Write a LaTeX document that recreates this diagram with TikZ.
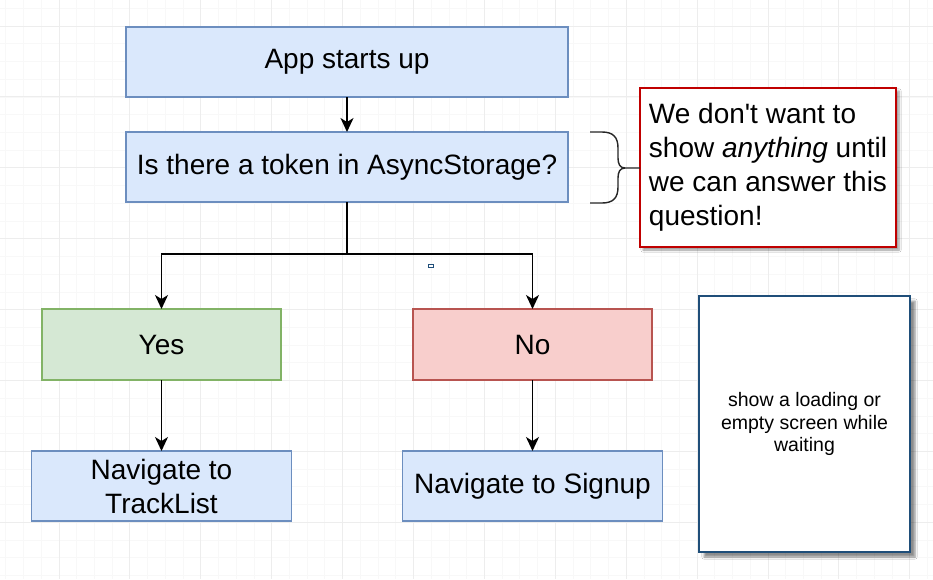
\documentclass[tikz,border=0pt]{standalone}
\usepackage{fontspec}
\setmainfont{Liberation Sans}
\usetikzlibrary{positioning,arrows.meta,shadows.blur,calc}

\definecolor{stepfill}{HTML}{DAE8FC}
\definecolor{stepline}{HTML}{6C8EBF}
\definecolor{yesfill}{HTML}{D5E8D4}
\definecolor{yesline}{HTML}{82B366}
\definecolor{nofill}{HTML}{F8CECC}
\definecolor{noline}{HTML}{B85450}
\definecolor{noteline}{HTML}{C00000}
\definecolor{waitline}{HTML}{1F4E79}
\definecolor{gridminor}{HTML}{F8F8F8}
\definecolor{gridmajor}{HTML}{EDEDED}

\begin{document}
\begin{tikzpicture}[
    x=1pt, y=-1pt,
    node distance=35pt and 1cm,
    box/.style={draw=stepline, fill=stepfill, line width=1.4pt, rectangle, align=center, inner sep=0pt, outer sep=0pt, minimum width=#1, minimum height=70pt, font=\fontsize{28}{34}\selectfont},
    box/.default=442pt,
    answer/.style={box=239pt, minimum height=71pt},
    note/.style={draw=noteline, fill=white, line width=2.4pt, rectangle, align=left, inner sep=0pt, minimum width=256pt, minimum height=159pt, font=\fontsize{28}{34}\selectfont, blur shadow={shadow xshift=3pt, shadow yshift=-3pt, shadow blur steps=6, shadow opacity=40}},
    waitbox/.style={draw=waitline, fill=white, line width=1.3pt, rectangle, align=center, inner sep=0pt, minimum width=211pt, minimum height=256pt, font=\fontsize{19.5}{22.5}\selectfont, blur shadow={shadow xshift=5pt, shadow yshift=-5pt, shadow blur steps=5, shadow opacity=45}},
    arrow/.style={-{Stealth[length=14pt, width=13pt, inset=4pt]}, line width=1.6pt}
]
\useasboundingbox (0,0) rectangle (933,579);

% Grid
\fill[white] (0,0) rectangle (933,579);
\foreach \i in {0,...,52}
  \draw[gridminor, line width=0.8pt] ({5.8+\i*17.725},0) -- ++(0,579);
\foreach \j in {0,...,32}
  \draw[gridminor, line width=0.8pt] (0,{8.3+\j*17.725}) -- ++(933,0);
\foreach \i in {0,...,12}
  \draw[gridmajor, line width=1pt] ({59+\i*70.9},0) -- ++(0,579);
\foreach \j in {0,...,7}
  \draw[gridmajor, line width=1pt] (0,{26+\j*70.9}) -- ++(933,0);

% Nodes
\node[box] (app) at (347,62) {App starts up};
\node[box, below=of app] (token) {Is there a token in AsyncStorage?};
\node[answer, draw=yesline, fill=yesfill] (yes) at (161.5,344.5) {Yes};
\node[answer, draw=noline, fill=nofill] (no) at (532.5,344.5) {No};
\node[box=260pt, below=71pt of yes] (tracklist) {Navigate to\\TrackList};
\node[box=260pt, below=71pt of no] (signup) {Navigate to Signup};
\node[note] (question) at (768,167.5) {We don\textquotesingle t want to\\show \textit{anything} until\\we can answer this\\question!};
\node[waitbox] (loading) at (804.5,424) {show a loading or\\empty screen while\\waiting};
\node[draw=waitline, fill=white, line width=0.8pt, inner sep=0pt, minimum width=5pt, minimum height=3pt] (marker) at (431,265.5) {};

% Brace
\draw[line width=1.4pt, black!85] (590,132) -- (602,132)
  .. controls (613,132) and (618,137) .. (618,148) -- (618,158)
  .. controls (618,164) and (620,168) .. (625,168) -- (640,168);
\draw[line width=1.4pt, black!85] (590,203) -- (602,203)
  .. controls (613,203) and (618,198) .. (618,187) -- (618,178)
  .. controls (618,172) and (620,168) .. (625,168);

% Arrows
\coordinate (fork) at ($(token.south)+(0,52)$);
\draw[arrow] (app) -- (token);
\draw[arrow] (token.south) -- (fork) -| (yes);
\draw[arrow] (fork) -| (no);
\draw[arrow] (yes) -- (tracklist);
\draw[arrow] (no) -- (signup);

\end{tikzpicture}
\end{document}
